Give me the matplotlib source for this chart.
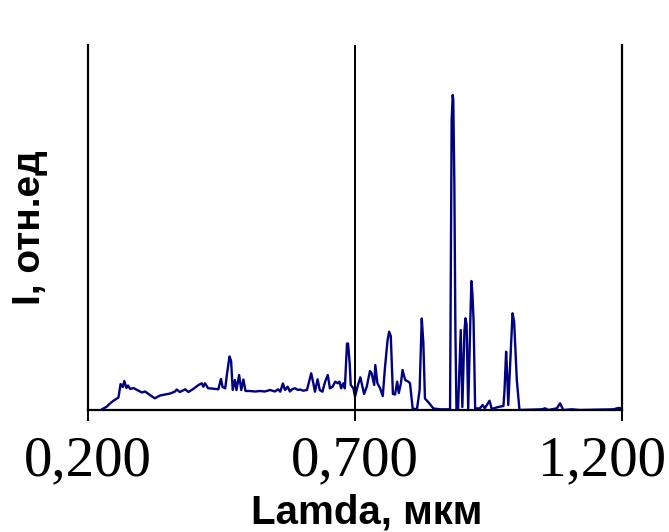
import matplotlib
matplotlib.use("Agg")
import matplotlib.pyplot as plt
from matplotlib.ticker import FixedLocator, FuncFormatter
from matplotlib.transforms import ScaledTranslation

# Emission spectrum: wavelength (um) and intensity (relative units)
wavelength = [
    0.227, 0.235, 0.241, 0.247, 0.257, 0.261, 0.265, 0.268, 0.272, 0.275,
    0.279, 0.285, 0.292, 0.301, 0.307, 0.316, 0.325, 0.335, 0.344, 0.354,
    0.363, 0.366, 0.372, 0.382, 0.388, 0.397, 0.407, 0.413, 0.416, 0.419,
    0.425, 0.432, 0.444, 0.449, 0.452, 0.457, 0.460, 0.465, 0.468, 0.471,
    0.475, 0.478, 0.483, 0.487, 0.491, 0.495, 0.503, 0.513, 0.522, 0.531,
    0.541, 0.550, 0.556, 0.560, 0.565, 0.569, 0.574, 0.578, 0.583, 0.588,
    0.593, 0.597, 0.603, 0.610, 0.618, 0.622, 0.625, 0.630, 0.634, 0.639,
    0.644, 0.649, 0.653, 0.658, 0.663, 0.668, 0.671, 0.674, 0.678, 0.681,
    0.685, 0.687, 0.690, 0.692, 0.697, 0.700, 0.705, 0.710, 0.714, 0.717,
    0.722, 0.728, 0.731, 0.736, 0.738, 0.742, 0.747, 0.752, 0.756, 0.761,
    0.764, 0.767, 0.771, 0.775, 0.779, 0.782, 0.786, 0.789, 0.794, 0.800,
    0.803, 0.808, 0.816, 0.821, 0.825, 0.828, 0.831, 0.837, 0.847, 0.859,
    0.878, 0.881, 0.883, 0.884, 0.886, 0.888, 0.890, 0.893, 0.898, 0.901,
    0.905, 0.907, 0.909, 0.912, 0.916, 0.918, 0.920, 0.922, 0.925, 0.934,
    0.939, 0.943, 0.952, 0.956, 0.968, 0.978, 0.980, 0.983, 0.985, 0.987,
    0.992, 0.995, 0.998, 1.003, 1.008, 1.050, 1.056, 1.062, 1.078, 1.084,
    1.090, 1.106, 1.121, 1.184, 1.193, 1.200,
]
intensity = [
    1.0, 3.3, 6.5, 9.0, 12.5, 26.0, 23.0, 29.0, 22.0, 24.5,
    21.0, 22.0, 20.0, 17.5, 18.5, 15.0, 11.7, 14.5, 15.5, 16.5,
    18.5, 20.5, 18.0, 20.7, 18.0, 21.0, 25.0, 26.7, 23.3, 26.7,
    21.7, 21.5, 20.7, 31.0, 23.0, 21.7, 35.0, 53.5, 49.0, 20.0,
    30.0, 20.0, 35.0, 20.0, 30.5, 19.0, 19.0, 18.5, 19.0, 18.5,
    20.0, 18.5, 20.7, 18.3, 26.5, 20.0, 23.3, 18.5, 21.0, 21.7,
    20.0, 20.5, 19.3, 20.0, 36.7, 26.7, 18.3, 30.7, 20.0, 18.3,
    28.3, 35.0, 21.7, 23.3, 28.3, 26.7, 28.3, 21.7, 26.7, 21.7,
    66.5, 66.5, 47.0, 25.0, 21.7, 13.3, 24.0, 32.7, 23.3, 16.0,
    23.3, 39.0, 36.7, 25.0, 45.0, 26.7, 21.7, 14.0, 41.7, 70.0,
    78.3, 74.0, 16.0, 15.5, 28.3, 17.0, 26.7, 40.0, 30.0, 28.3,
    26.7, 1.5, 0.7, 20.0, 91.5, 67.0, 11.5, 8.0, 1.5, 0.7,
    0.7, 290.0, 315.0, 310.0, 230.0, 80.0, 0.5, 0.5, 80.0, 3.0,
    80.0, 91.7, 85.0, 1.5, 90.0, 129.0, 115.0, 90.0, 1.5, 1.7,
    5.0, 1.7, 9.3, 1.0, 3.0, 4.0, 20.0, 58.3, 35.0, 5.0,
    63.3, 96.7, 88.3, 30.0, 0.0, 0.7, 1.7, 0.0, 1.7, 6.7,
    0.0, 0.7, 0.0, 0.7, 2.0, 1.5,
]

x_ticks = [0.2, 0.7, 1.2]
x_label = "Lamda, мкм"
y_label = "I, отн.ед"

fig = plt.figure(figsize=(6.69, 5.32), dpi=100)
ax = fig.add_axes([88 / 669, 1 - 410 / 532, 534 / 669, 365 / 532])

ax.plot(wavelength, intensity, color="#000080", lw=1.7, solid_joinstyle="round")

ax.set_xlim(0.2, 1.2)
ax.set_ylim(0, 365)

ax.xaxis.set_major_locator(FixedLocator(x_ticks))
ax.xaxis.set_major_formatter(FuncFormatter(lambda v, p: f"{v:.3f}".replace(".", ",")))
ax.set_yticks([])
ax.grid(True, axis="x", color="black", lw=1.4)
ax.set_axisbelow(False)

ax.spines["top"].set_visible(False)
for side in ("left", "right", "bottom"):
    ax.spines[side].set_color("black")
    ax.spines[side].set_linewidth(1.6)

ax.tick_params(axis="x", direction="out", length=8, width=1.4, color="black", pad=10)
ticklabels = ax.get_xticklabels()
for lab in ticklabels:
    lab.set_fontfamily("Liberation Serif")
    lab.set_fontsize(41)
# keep the last tick label inside the figure
ticklabels[-1].set_transform(ticklabels[-1].get_transform()
                             + ScaledTranslation(-20 / 100, 0, fig.dpi_scale_trans))

ax.set_xlabel(x_label, fontfamily="Liberation Sans", fontweight="bold", fontsize=29,
              va="baseline")
ax.xaxis.set_label_coords((367 - 88) / 534, (410 - 524) / 365)
ax.set_ylabel(y_label, fontfamily="Liberation Sans", fontweight="bold", fontsize=28,
              va="center")
ax.yaxis.set_label_coords((30 - 88) / 534, 0.5)

fig.savefig("out.png", dpi=100)
